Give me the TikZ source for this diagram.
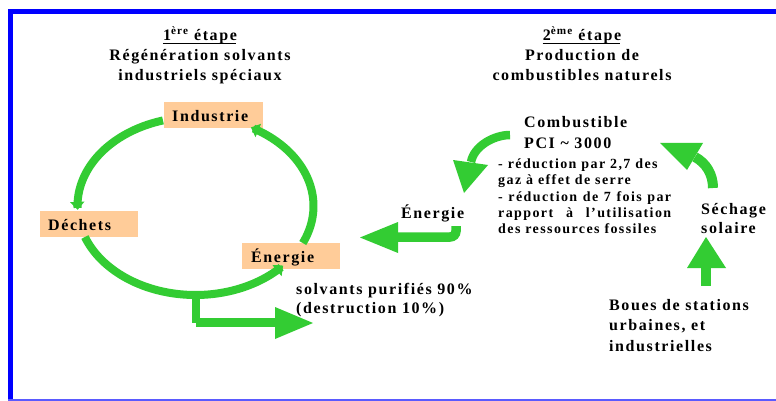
\documentclass[tikz,border=0pt]{standalone}
\usepackage{fontspec}
\setmainfont{Liberation Serif}[LetterSpace=10]
\usetikzlibrary{arrows.meta}
\definecolor{vert}{RGB}{51,204,51}
\definecolor{peche}{RGB}{255,204,153}
\definecolor{bleu}{RGB}{0,0,255}
\definecolor{bleuclair}{RGB}{90,90,255}
\begin{document}
\begin{tikzpicture}[x=1pt,y=-1pt,
  txt/.style={inner sep=0pt, text=black, font=\fontsize{16}{20}\selectfont\bfseries},
  smalltxt/.style={inner sep=0pt, text=black, font=\fontsize{14}{16}\selectfont\bfseries},
  pbox/.style={fill=peche, draw=none, inner sep=0pt, minimum width=99pt, minimum height=26pt},
  ellarc/.style={draw=vert, line width=8pt},
  ringtip/.style={-{Triangle[width=14pt,length=8pt]}},
  band/.style={draw=vert, line width=9pt},
  arrhead/.style={fill=vert, draw=none},
  uline/.style={draw=black, line width=0.9pt}]
\useasboundingbox (0,0) rectangle (776,401);
\fill[white] (0,0) rectangle (776,401);
% frame
\fill[bleu] (8,9) rectangle (13.3,401);
\fill[bleu] (8,9) rectangle (776,13.7);
\draw[bleuclair, line width=1.5pt] (8,400.2) -- (776,400.2);

% titles
\node[txt, anchor=base] (t1a) at (200,41) {1\textsuperscript{ère} étape};
\draw[uline] ([yshift=-2.3pt]t1a.base west) -- ([yshift=-2.3pt,xshift=-1.5pt]t1a.base east);
\node[txt, anchor=base] (t1b) at (200,61) {Régénération solvants};
\node[txt, anchor=base] (t1c) at (200,81) {industriels spéciaux};
\node[txt, anchor=base] (t2a) at (582,41) {2\textsuperscript{ème} étape};
\draw[uline] ([yshift=-2.3pt]t2a.base west) -- ([yshift=-2.3pt,xshift=-1.5pt]t2a.base east);
\node[txt, anchor=base] (t2b) at (582,61) {Production de};
\node[txt, anchor=base] (t2c) at (582,81) {combustibles naturels};

% boxes
\node[pbox] (indbox) at (213.5,115) {};
\node[pbox, minimum width=98pt] (decbox) at (89,224) {};
\node[pbox, minimum width=98pt] (enbox) at (291,256) {};
\node[txt, anchor=base west] (ind) at (172,122) {Industrie};
\node[txt, anchor=base west] (dec) at (48,230) {Déchets};
\node[txt, anchor=base west] (en1) at (251,262) {Énergie};

% cycle
\draw[ellarc, ringtip] plot[domain=254:177.5, samples=60] ({195.5+118*cos(\x)},{206+89*sin(\x)});
\draw[ellarc, ringtip] plot[domain=159.6:42, samples=80] ({195.5+118*cos(\x)},{206+89*sin(\x)});
\draw[ellarc, ringtip] plot[domain=24.6:-62, samples=60] ({195.5+118*cos(\x)},{206+89*sin(\x)});

% branch out
\coordinate (bot) at (196,294);
\fill[vert] (192,294) rectangle (200,323);
\fill[vert] (196,318) rectangle (276,327);
\fill[arrhead] (275,307) -- (313,323) -- (275,339) -- cycle;
\node[txt, anchor=base west] (sp1) at (296,294) {solvants purifiés 90\%};
\node[txt, anchor=base west] (sp2) at (296,313) {(destruction 10\%)};

% right part
\node[txt, anchor=base west] (comb) at (524,128) {Combustible};
\node[txt, anchor=base west] (pci) at (524,148) {PCI \textasciitilde{} 3000};
\node[smalltxt, anchor=base west] (r1) at (498,168) {- réduction par 2,7 des};
\node[smalltxt, anchor=base west] (r2) at (498,184) {gaz à effet de serre};
\node[smalltxt, anchor=base west] (r3) at (498,201) {\makebox[173pt][s]{- réduction de 7 fois par}};
\node[smalltxt, anchor=base west] (r4) at (498,217) {\makebox[173pt][s]{rapport à l'utilisation}};
\node[smalltxt, anchor=base west] (r5) at (498,233) {des ressources fossiles};
\node[txt, anchor=base west] (en2) at (401,218) {Énergie};
\node[txt, anchor=base west] (sech1) at (701,214) {Séchage};
\node[txt, anchor=base west] (sech2) at (701,233) {solaire};
\node[txt, anchor=base west] (b1) at (609,310) {Boues de stations};
\node[txt, anchor=base west] (b2) at (609,330) {urbaines, et};
\node[txt, anchor=base west] (b3) at (609,351) {industrielles};

% arrow combustible -> energie
\draw[band, line width=8.5pt] (510,135) .. controls (494,135) and (474,146) .. (471,162);
\fill[arrhead] (453,160) -- (464,193) -- (488,165) -- cycle;
% arrow sechage -> combustible
\draw[band, line width=10pt] (713,188) .. controls (713,174) and (706,163) .. (695,157);
\fill[arrhead] (660,143) -- (703,143) -- (687,170) -- cycle;
% arrow boues -> sechage
\fill[vert] (701,267) rectangle (711,286);
\fill[arrhead] (687,268) -- (726,268) -- (706,237) -- cycle;
% arrow energie out
\draw[band, line width=9.5pt, rounded corners=6pt] (397,237) -- (456,237) -- (456,226);
\fill[arrhead] (398,222) -- (360,237.5) -- (398,253) -- cycle;
\end{tikzpicture}
\end{document}
